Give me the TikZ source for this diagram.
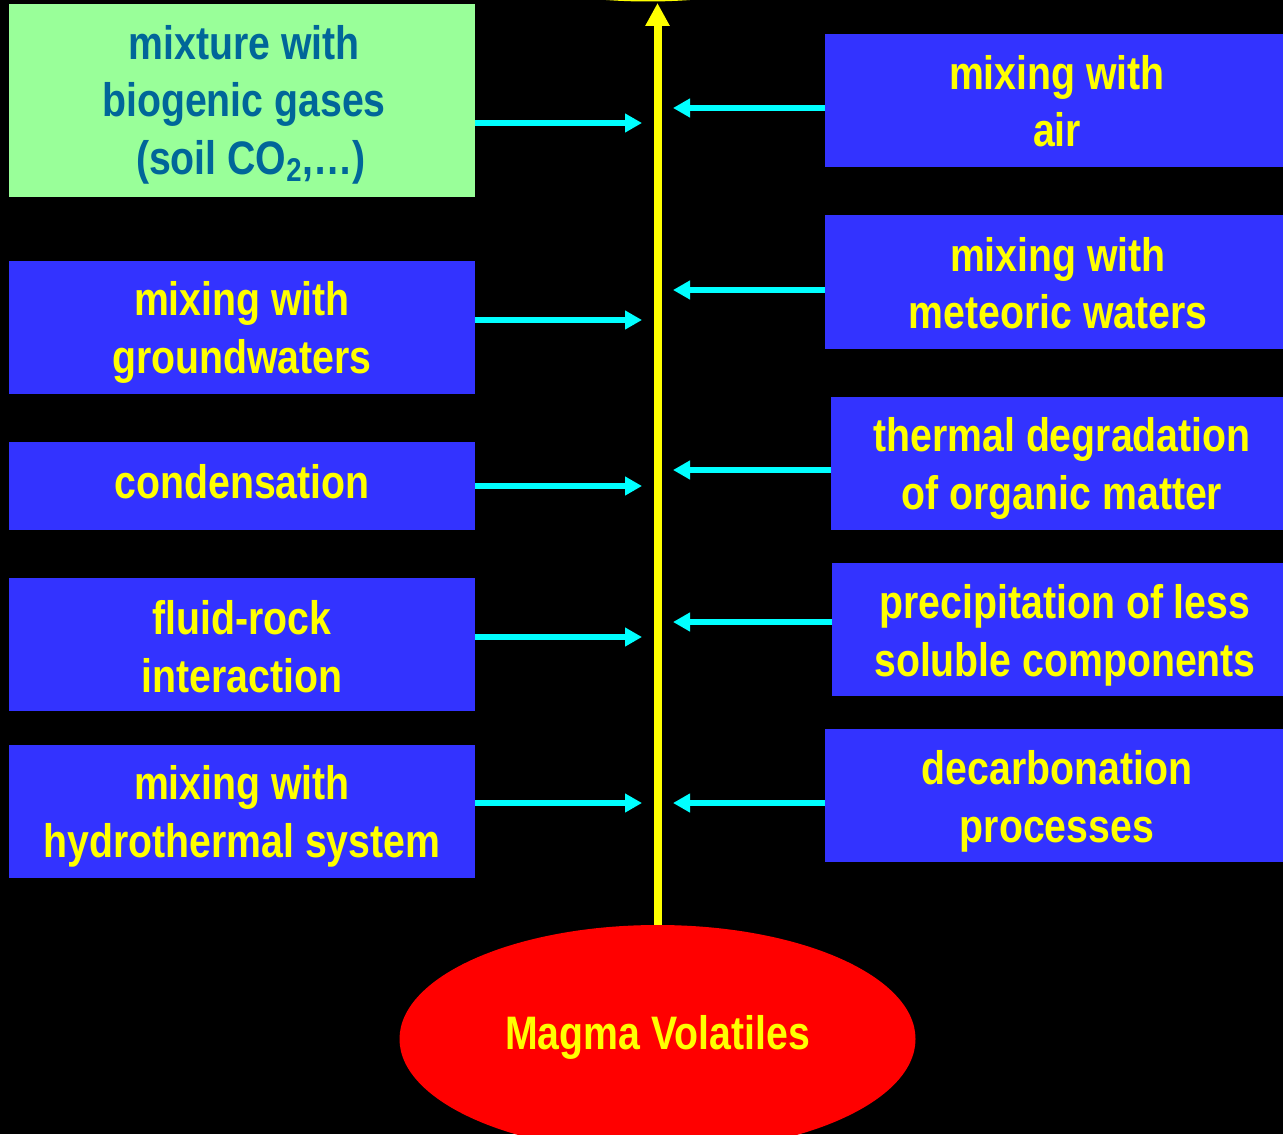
\documentclass[tikz,border=0pt]{standalone}
\usepackage{fontspec}
\usetikzlibrary{arrows.meta,shapes.geometric}
\newfontfamily\nbfont[FakeStretch=0.835]{Liberation Sans Bold}
\definecolor{boxblue}{RGB}{51,51,255}
\definecolor{boxgreen}{RGB}{153,255,153}
\definecolor{tealtext}{RGB}{0,102,153}
\definecolor{cyanarrow}{RGB}{0,255,255}
\definecolor{yel}{RGB}{255,255,0}
\definecolor{magmared}{RGB}{255,0,0}
\tikzset{
  txt/.style={font=\nbfont\fontsize{23.5}{28.7}\selectfont, align=center, inner sep=0pt},
  ytxt/.style={txt, text=yel, yshift=#1},
  gtxt/.style={txt, text=tealtext, yshift=#1},
  bluebox/.style={rectangle, fill=boxblue, inner sep=0pt, minimum width=233pt, minimum height=66.5pt},
  greenbox/.style={rectangle, fill=boxgreen, inner sep=0pt, minimum width=233pt, minimum height=96.5pt},
  cyarrow/.style={draw=cyanarrow, line width=3pt, -{Triangle[length=8.5pt,width=9pt]}},
  yarrow/.style={draw=yel, line width=4pt, -{Triangle[length=11.5pt,width=11.5pt]}},
}
\begin{document}
\begin{tikzpicture}[x=0.5pt,y=-0.5pt]
\useasboundingbox (0,0) rectangle (1283,1134);
\fill[black] (0,0) rectangle (1283,1134);
\clip (0,0) rectangle (1283,1134);
% partial shape at the top
\node[ellipse, fill=yel, inner sep=0pt, minimum width=258pt, minimum height=114pt] (surf) at (648,-112.5) {};
% left column
\node[greenbox, label={[gtxt=-2pt, xshift=1pt]center:{mixture with\\biogenic gases\\\hspace*{7pt}(soil CO\textsubscript{2},…)}}] (g) at (242,100.5) {};
\node[bluebox, label={[ytxt=-2.5pt]center:{mixing with\\groundwaters}}] (gw) at (242,327.5) {};
\node[bluebox, minimum height=44pt, label={[ytxt=2pt]center:{condensation}}] (cond) at (242,486) {};
\node[bluebox, label={[ytxt=-1pt]center:{fluid-rock\\interaction}}] (fr) at (242,644.5) {};
\node[bluebox, label={[ytxt=-2.5pt]center:{mixing with\\hydrothermal system}}] (hs) at (242,811.5) {};
% right column
\node[bluebox, minimum width=232pt, label={[ytxt=-0.5pt]center:{mixing with\\air}}] (air) at (1057,100.5) {};
\node[bluebox, minimum height=67pt, label={[ytxt=-0.5pt]center:{mixing with\\meteoric waters}}] (met) at (1058,282) {};
\node[bluebox, minimum width=231pt, label={[ytxt=-2.5pt]center:{thermal degradation\\of organic matter}}] (therm) at (1062,463.5) {};
\node[bluebox, label={[ytxt=-3pt]center:{precipitation of less\\soluble components}}] (prec) at (1065,629.5) {};
\node[bluebox, minimum width=232pt, label={[ytxt=-3pt]center:{decarbonation\\processes}}] (dec) at (1057,795.5) {};
% magma
\node[ellipse, fill=magmared, inner sep=0pt, minimum width=258pt, minimum height=114pt, label={[ytxt=1pt]center:{Magma Volatiles}}] (magma) at (657.5,1039) {};
% arrow tips
\coordinate (top) at (657.5,3);
\coordinate (l1) at (642,123);
\coordinate (l2) at (642,320);
\coordinate (l3) at (642,486);
\coordinate (l4) at (642,637);
\coordinate (l5) at (642,803);
\coordinate (r1) at (673,108);
\coordinate (r2) at (673,290);
\coordinate (r3) at (673,470);
\coordinate (r4) at (673,622);
\coordinate (r5) at (673,803);
% main arrow
\draw[yarrow] (magma.north) -- (top);
% side arrows
\draw[cyarrow] (g.east |- l1) -- (l1);
\draw[cyarrow] (gw.east |- l2) -- (l2);
\draw[cyarrow] (cond.east |- l3) -- (l3);
\draw[cyarrow] (fr.east |- l4) -- (l4);
\draw[cyarrow] (hs.east |- l5) -- (l5);
\draw[cyarrow] (air.west |- r1) -- (r1);
\draw[cyarrow] (met.west |- r2) -- (r2);
\draw[cyarrow] (therm.west |- r3) -- (r3);
\draw[cyarrow] (prec.west |- r4) -- (r4);
\draw[cyarrow] (dec.west |- r5) -- (r5);
\end{tikzpicture}
\end{document}
